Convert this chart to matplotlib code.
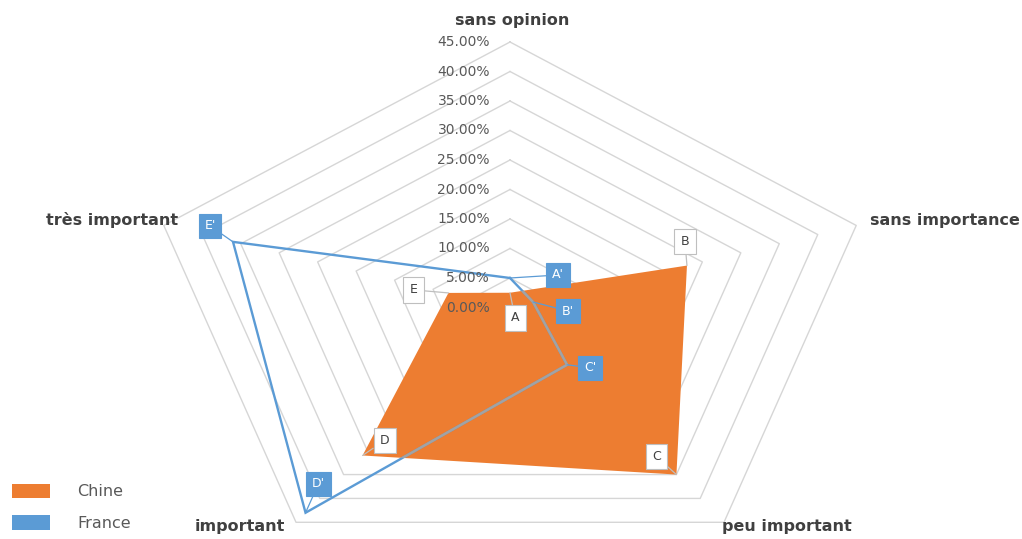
import numpy as np
import matplotlib
matplotlib.use('Agg')
import matplotlib.pyplot as plt
from matplotlib.patches import Polygon, Patch

# ---- data ----
categories = ['sans opinion', 'sans importance', 'peu important', 'important', 'très important']
chine = [2.5, 23, 35, 31, 8]
france = [5, 3, 12, 43, 36]
chine_labels = ['A', 'B', 'C', 'D', 'E']
france_labels = ["A'", "B'", "C'", "D'", "E'"]
ticks = [0, 5, 10, 15, 20, 25, 30, 35, 40, 45]
tick_labels = ['%.2f%%' % t for t in ticks]
series_names = ['Chine', 'France']

# ---- style / layout ----
ORANGE = '#ED7D31'
BLUE = '#5B9BD5'
GRID = '#D6D6D6'
TXT = '#595959'
PX_X = 8.09   # pixels per unit horizontally
PX_Y = 5.9    # pixels per unit vertically
CX, CY = 510, 307.5
W, H = 1022, 539

chine_offsets = [(5, -25), (-2, 24), (-20, 18), (22, 15), (-35, 3)]
france_offsets = [(48, 3), (35, -9), (23, -3), (13, 29), (-23, 16)]

fig = plt.figure(figsize=(W / 100, H / 100), dpi=100)
ax = fig.add_axes([0, 0, 1, 1])
ax.axis('off')
ax.set_xlim(-CX / PX_X, (W - CX) / PX_X)
ax.set_ylim(-(H - CY) / PX_Y, CY / PX_Y)

theta = np.arange(len(categories)) * 2 * np.pi / len(categories)


def xy(vals):
    v = np.asarray(vals, dtype=float)
    return np.sin(theta) * v, np.cos(theta) * v


def closed(a):
    return np.append(a, a[0])


def px2data(px, py):
    return (px - CX) / PX_X, (CY - py) / PX_Y


# grid pentagons
for t in ticks[1:]:
    gx, gy = xy(np.full(len(categories), t))
    ax.plot(closed(gx), closed(gy), color=GRID, lw=1.0, zorder=1)

# radial tick labels
for t, lab in zip(ticks, tick_labels):
    tx, _ = px2data(490, 0)
    ax.text(tx, t, lab, ha='right', va='center', fontsize=10, color=TXT,
            family='DejaVu Sans', zorder=5)

# Chine filled area
cx_, cy_ = xy(chine)
poly = Polygon(np.column_stack([cx_, cy_]), closed=True, fc=ORANGE, ec='none', zorder=2)
ax.add_patch(poly)

# France line
fx, fy = xy(france)
ax.plot(closed(fx), closed(fy), color=BLUE, lw=1.7, zorder=3, solid_joinstyle='miter')
grey, = ax.plot(closed(fx), closed(fy), color='#A3A3A3', lw=1.7, zorder=4, solid_joinstyle='miter')
grey.set_clip_path(poly)

# data labels
for x, y, lab, off in zip(cx_, cy_, chine_labels, chine_offsets):
    ax.annotate(lab, xy=(x, y), xytext=off, textcoords='offset pixels',
                ha='center', va='center', fontsize=9, color='#404040', zorder=6,
                bbox=dict(boxstyle='square,pad=0.5', fc='white', ec='#BFBFBF', lw=0.8),
                arrowprops=dict(arrowstyle='-', color='#BFBFBF', lw=0.9, shrinkA=0, shrinkB=0))
for x, y, lab, off in zip(fx, fy, france_labels, france_offsets):
    ax.annotate(lab, xy=(x, y), xytext=off, textcoords='offset pixels',
                ha='center', va='center', fontsize=9, color='white', zorder=6,
                bbox=dict(boxstyle='square,pad=0.45', fc=BLUE, ec=BLUE, lw=0.8),
                arrowprops=dict(arrowstyle='-', color=BLUE, lw=0.9, shrinkA=0, shrinkB=0))

# category labels
cat_pos = [(512, 20, 'center'), (870, 220, 'left'), (722, 527, 'left'),
           (285, 527, 'right'), (178, 220, 'right')]
for name, (px, py, ha) in zip(categories, cat_pos):
    dx, dy = px2data(px, py)
    ax.text(dx, dy, name, ha=ha, va='center', fontsize=11.5, fontweight='bold',
            color='#404040', family='DejaVu Sans')

# legend
handles = [Patch(fc=ORANGE, ec='none'), Patch(fc=BLUE, ec='none')]
leg = fig.legend(handles, series_names, loc='lower left',
                 bbox_to_anchor=(12 / W, 8 / H), frameon=False, fontsize=11.5,
                 handlelength=2.4, handleheight=1.0, handletextpad=1.7,
                 labelspacing=1.0, borderpad=0, borderaxespad=0)
for t in leg.get_texts():
    t.set_color(TXT)

fig.savefig('out.png', dpi=100)
